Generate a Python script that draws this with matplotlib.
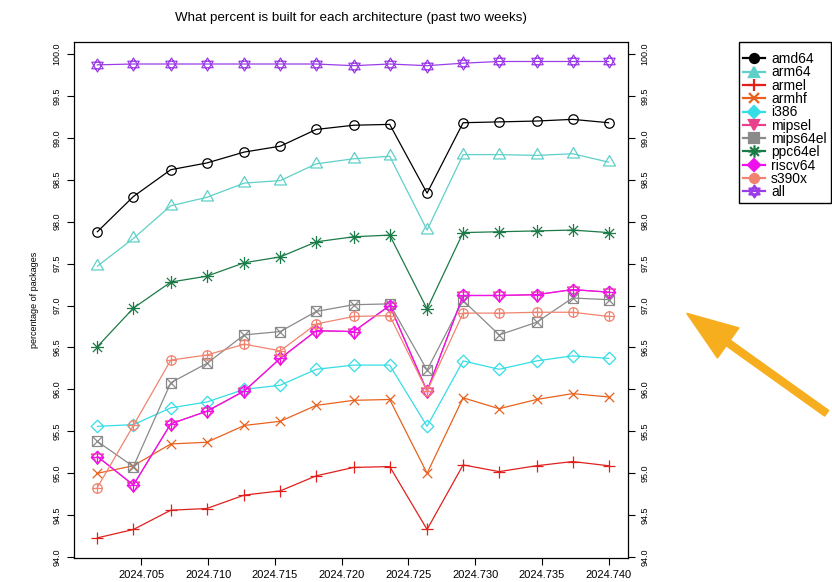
import matplotlib
matplotlib.use("Agg")
import matplotlib.pyplot as plt
from matplotlib.path import Path
from matplotlib.lines import Line2D
from matplotlib.patches import FancyArrow

plt.rcParams['font.family'] = ['Liberation Sans', 'DejaVu Sans']

# daily samples, decimal year
dates = [2024.7017, 2024.7044, 2024.7072, 2024.7099, 2024.7127, 2024.7154, 2024.7181,
         2024.7209, 2024.7236, 2024.7264, 2024.7291, 2024.7318, 2024.7346, 2024.7373,
         2024.7400]

amd64 = [97.88, 98.30, 98.62, 98.70, 98.83, 98.90, 99.10, 99.15, 99.16, 98.34, 99.18, 99.19, 99.20, 99.22, 99.18]
arm64 = [97.47, 97.80, 98.19, 98.29, 98.46, 98.49, 98.69, 98.75, 98.78, 97.90, 98.80, 98.80, 98.79, 98.81, 98.71]
armel = [94.23, 94.33, 94.56, 94.58, 94.74, 94.79, 94.97, 95.07, 95.08, 94.33, 95.10, 95.02, 95.09, 95.14, 95.09]
armhf = [95.00, 95.09, 95.35, 95.37, 95.57, 95.62, 95.81, 95.87, 95.88, 95.00, 95.90, 95.77, 95.88, 95.95, 95.91]
i386 = [95.56, 95.58, 95.78, 95.85, 96.00, 96.05, 96.24, 96.29, 96.29, 95.56, 96.34, 96.24, 96.34, 96.40, 96.37]
riscv64 = [95.20, 94.86, 95.59, 95.74, 95.98, 96.37, 96.70, 96.69, 97.00, 95.98, 97.12, 97.12, 97.13, 97.19, 97.16]
mipsel = list(riscv64)
mips64el = [95.38, 95.08, 96.08, 96.31, 96.65, 96.69, 96.93, 97.01, 97.02, 96.23, 97.06, 96.65, 96.80, 97.09, 97.07]
ppc64el = [96.51, 96.97, 97.28, 97.35, 97.51, 97.58, 97.76, 97.82, 97.84, 96.96, 97.87, 97.88, 97.89, 97.90, 97.87]
s390x = [94.83, 95.57, 96.35, 96.41, 96.54, 96.46, 96.78, 96.87, 96.88, 95.98, 96.91, 96.91, 96.92, 96.92, 96.87]
all_arch = [99.87, 99.88, 99.88, 99.88, 99.88, 99.88, 99.88, 99.86, 99.88, 99.86, 99.89, 99.91, 99.91, 99.91, 99.91]

names = ['amd64', 'arm64', 'armel', 'armhf', 'i386', 'mipsel', 'mips64el',
         'ppc64el', 'riscv64', 's390x', 'all']
series = [amd64, arm64, armel, armhf, i386, mipsel, mips64el, ppc64el, riscv64, s390x, all_arch]
colors = ['#000000', '#5fd0c8', '#e0201c', '#e8621e', '#35dde6', '#e8408a', '#8a8a8a',
          '#1b7b47', '#ee11ee', '#f08470', '#9b3de6']

yticks = [94.0, 94.5, 95.0, 95.5, 96.0, 96.5, 97.0, 97.5, 98.0, 98.5, 99.0, 99.5, 100.0]
xticks = [2024.705, 2024.710, 2024.715, 2024.720, 2024.725, 2024.730, 2024.735, 2024.740]

# R style plotting symbols
M, L, C = Path.MOVETO, Path.LINETO, Path.CLOSEPOLY
plus_p = Path([(-1, 0), (1, 0), (0, -1), (0, 1)], [M, L, M, L])
cross_p = Path([(-1, -1), (1, 1), (-1, 1), (1, -1)], [M, L, M, L])
cross_s = Path([(-.707, -.707), (.707, .707), (-.707, .707), (.707, -.707)], [M, L, M, L])
circle_p = Path.unit_circle()
square_p = Path([(-1, -1), (1, -1), (1, 1), (-1, 1), (0, 0)], [M, L, L, L, C])
diamond_p = Path([(0, -1), (1, 0), (0, 1), (-1, 0), (0, 0)], [M, L, L, L, C])
tri_up = Path([(0, 1), (-.866, -.5), (.866, -.5), (0, 0)], [M, L, L, C])
tri_dn = Path([(0, -1), (-.866, .5), (.866, .5), (0, 0)], [M, L, L, C])

circ_plus = Path.make_compound_path(circle_p, plus_p)
sq_cross = Path.make_compound_path(square_p, cross_p)
dia_plus = Path.make_compound_path(diamond_p, plus_p)
asterisk = Path.make_compound_path(plus_p, cross_s)
star_d = Path.make_compound_path(tri_up, tri_dn)

markers = [circle_p, tri_up, plus_p, cross_p, diamond_p, tri_dn, sq_cross,
           asterisk, dia_plus, circ_plus, star_d]
msizes = [6.8, 10, 8.4, 6.8, 9, 10, 7.2, 9.4, 9, 6.8, 9.4]

legend_markers = ['o', '^', '+', 'x', 'D', 'v', 's', asterisk, 'D', 'o', star_d]
legend_sizes = [6.5, 7.5, 9, 7, 6.5, 7.5, 6.5, 9, 6.5, 6.5, 8.5]

fig = plt.figure(figsize=(8.32, 5.82), dpi=100)
ax = fig.add_axes([74 / 832, 24 / 582, (627.7 - 74) / 832, (558 - 41.7) / 582])

for name, vals, col, mk, ms in zip(names, series, colors, markers, msizes):
    ax.plot(dates, vals, color=col, lw=0.9, marker=mk, ms=ms, mfc='none',
            mec=col, mew=0.9, label=name)

ax.set_xlim(2024.69995, 2024.74143)
ax.set_ylim(93.99, 100.146)
ax.set_xticks(xticks)
ax.set_xticklabels(['%.3f' % t for t in xticks], fontsize=8)
ax.set_yticks(yticks)
ax.set_yticklabels(['%.1f' % t for t in yticks], fontsize=6.5)
ax.tick_params(axis='y', right=True, labelright=True, labelrotation=90,
               length=5, width=0.8, pad=4)
ax.tick_params(axis='x', length=5, width=0.8, pad=4)
for lab in ax.get_yticklabels():
    lab.set_va('center')
for s in ax.spines.values():
    s.set_linewidth(0.9)

ax.set_ylabel('percentage of packages', fontsize=6.5, labelpad=10)
ax.set_title('What percent is built for each architecture (past two weeks)',
             fontsize=9.6, pad=15)

handles = [Line2D([0], [0], color=c, lw=1.6, marker=m, ms=s, mfc=c, mec=c, mew=1.6)
           for c, m, s in zip(colors, legend_markers, legend_sizes)]
# blank title just pads the top of the box like R's legend
fig.legend(handles, names, loc='upper left', bbox_to_anchor=(739 / 832, 1 - 41.7 / 582),
           bbox_transform=fig.transFigure, borderaxespad=0, fancybox=False,
           edgecolor='black', framealpha=1, fontsize=10, handlelength=1.6,
           handletextpad=0.4, borderpad=0.3, labelspacing=-0.05,
           title=' ', title_fontsize=5)

# orange pointer arrow
arrow = FancyArrow(8.267, 1.687, -1.40, 1.00, width=0.07, head_width=0.37,
                   head_length=0.51, length_includes_head=True, color='#f7ae1e',
                   transform=fig.dpi_scale_trans)
fig.add_artist(arrow)

fig.savefig('out.png', dpi=100)
